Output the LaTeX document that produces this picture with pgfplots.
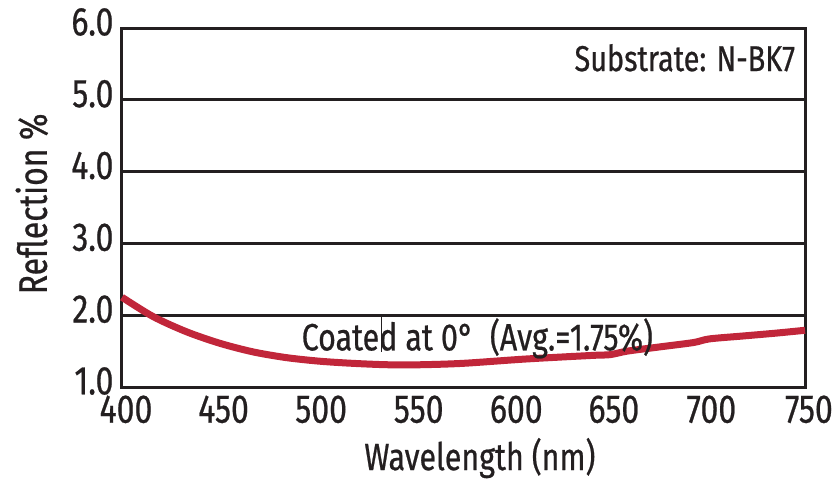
\documentclass[border=0pt]{standalone}
\usepackage{fontspec}
\setmainfont{Fira Sans}[FakeStretch=0.8, FakeBold=0.6]
\usepackage{pgfplots}
\pgfplotsset{compat=1.18}
\definecolor{curvered}{HTML}{C1263A}
\definecolor{frame}{HTML}{231F20}
\begin{document}
\begin{tikzpicture}
  % page = reference frame, axis box at (0,0)-(683pt,359pt)
  \useasboundingbox (-122pt,-106pt) rectangle (712pt,387pt);
  \begin{axis}[
      at={(0pt,0pt)}, anchor=south west,
      scale only axis,
      width=683pt, height=359pt,
      xmin=400, xmax=750,
      ymin=1, ymax=6,
      xtick={400,450,...,750},
      ytick={1,2,...,6},
      ymajorgrids,
      major grid style={draw=frame, line width=2.8pt},
      axis line style={draw=frame, line width=3pt},
      major tick length=0pt,
      /pgf/number format/assume math mode=true,
      yticklabel style={yshift=6pt, /pgf/number format/fixed,
        /pgf/number format/fixed zerofill, /pgf/number format/precision=1},
      xticklabel style={xshift=4pt, /pgf/number format/1000 sep={}},
      tick label style={font=\fontsize{40}{44}\selectfont, text=frame},
      xticklabel shift=5pt,
      yticklabel shift=5pt,
      xlabel={Wavelength (nm)},
      ylabel={Reflection \%},
      xlabel style={font=\fontsize{38}{42}\selectfont, text=frame,
        at={(axis description cs:0.524,-0.198)}, anchor=center},
      ylabel style={font=\fontsize{40}{44}\selectfont, text=frame,
        at={(axis description cs:-0.132,0.51)}, anchor=center},
      clip=false,
    ]
    % measured reflection curve
    \addplot [smooth, curvered, line width=7pt] coordinates {
      (400,2.25)
      (416,1.98)
      (433,1.77)
      (450,1.61)
      (467,1.49)
      (484,1.41)
      (501,1.36)
      (518,1.33)
      (536,1.31)
      (553,1.31)
      (575,1.33)
      (607,1.39)
      (641,1.44)
      (650,1.45)
      (659,1.50)
      (676,1.56)
      (693,1.62)
      (701,1.67)
      (718,1.71)
      (735,1.75)
      (750,1.79)
    };
    \draw [frame, line width=1.5pt] (axis cs:533,2.0) -- (axis cs:533,1.49);
    \node [anchor=base west, inner sep=0pt, font=\fontsize{38}{42}\selectfont, text=frame]
      at (axis cs:492,1.51) {Coated at 0°\ \ (Avg.=1.75\%)};
    \node [anchor=base east, inner sep=0pt, font=\fontsize{36}{40}\selectfont, text=frame]
      at (axis cs:745,5.40) {Substrate: N-BK7};
  \end{axis}
\end{tikzpicture}
\end{document}
